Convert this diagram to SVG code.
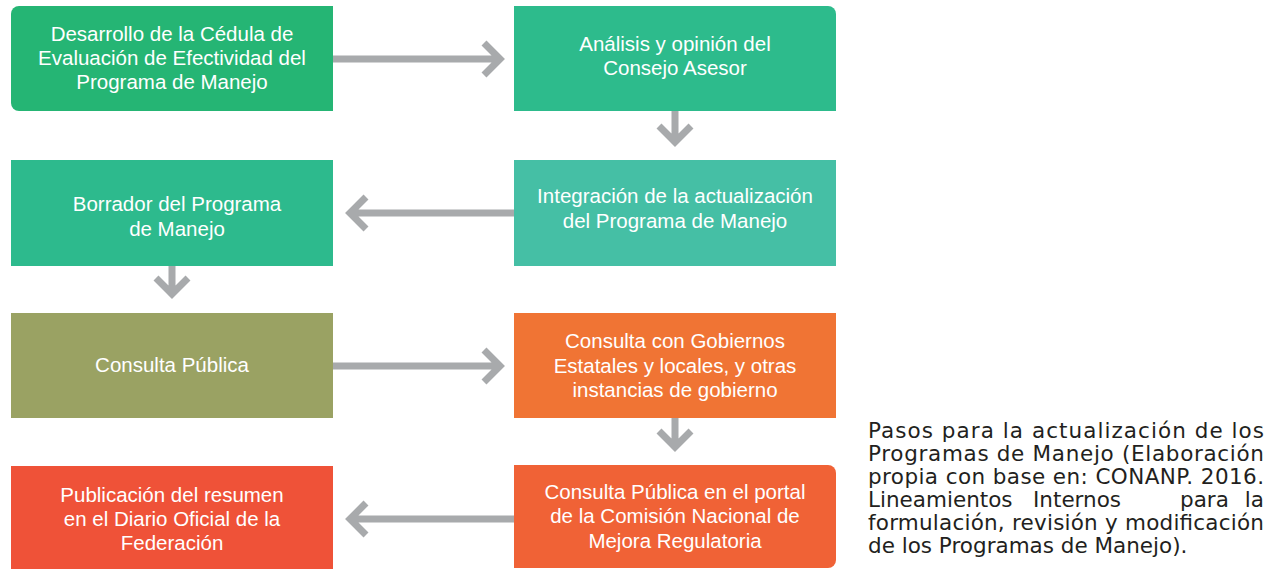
<svg xmlns="http://www.w3.org/2000/svg" width="1276" height="569" viewBox="0 0 1276 569">
<style>
.t{font-family:"Liberation Sans",Arial,sans-serif;font-size:20.5px;fill:#ffffff;text-anchor:middle}
.c{font-family:"DejaVu Sans","Noto Sans",sans-serif;font-size:21.5px;fill:#231f20}
.a{fill:none;stroke:#a8aaac;stroke-width:7}
</style>
<rect width="1276" height="569" fill="#ffffff"/>
<g id="n1">
<path d="M19 6H333V111H19A8 8 0 0 1 11 103V14A8 8 0 0 1 19 6Z" fill="#25b574"/>
<text class="t" x="172" y="41">Desarrollo de la Cédula de</text>
<text class="t" x="172" y="65">Evaluación de Efectividad del</text>
<text class="t" x="172" y="89">Programa de Manejo</text>
</g>
<g id="n2">
<path d="M514 6H828A8 8 0 0 1 836 14V111H514Z" fill="#2dbb8c"/>
<text class="t" x="675" y="51">Análisis y opinión del</text>
<text class="t" x="675" y="75">Consejo Asesor</text>
</g>
<g id="n3">
<rect x="514" y="160" width="322" height="106" fill="#45bfa5"/>
<text class="t" x="675" y="203">Integración de la actualización</text>
<text class="t" x="675" y="228">del Programa de Manejo</text>
</g>
<g id="n4">
<rect x="11" y="160" width="322" height="106" fill="#2dba8d"/>
<text class="t" x="177" y="211">Borrador del Programa</text>
<text class="t" x="177" y="236">de Manejo</text>
</g>
<g id="n5">
<rect x="11" y="313" width="322" height="105" fill="#9aa263"/>
<text class="t" x="172" y="372">Consulta Pública</text>
</g>
<g id="n6">
<rect x="514" y="313" width="322" height="105" fill="#f07434"/>
<text class="t" x="675" y="348">Consulta con Gobiernos</text>
<text class="t" x="675" y="373">Estatales y locales, y otras</text>
<text class="t" x="675" y="397">instancias de gobierno</text>
</g>
<g id="n7">
<path d="M514 465H828A8 8 0 0 1 836 473V560A8 8 0 0 1 828 568H514Z" fill="#f06236"/>
<text class="t" x="675" y="499">Consulta Pública en el portal</text>
<text class="t" x="675" y="523">de la Comisión Nacional de</text>
<text class="t" x="675" y="548">Mejora Regulatoria</text>
</g>
<g id="n8">
<path d="M11 466H333V569H11Z" fill="#ef5238"/>
<text class="t" x="172" y="502">Publicación del resumen</text>
<text class="t" x="172" y="526">en el Diario Oficial de la</text>
<text class="t" x="172" y="550">Federación</text>
</g>
<g id="connectors">
<path class="a" d="M333 59H497M484 43L500 59L484 75"/>
<path class="a" d="M675 111V141M659 126L675 142L691 126"/>
<path class="a" d="M514 213H353M366 197L350 213L366 229"/>
<path class="a" d="M172 266V293M156 278L172 294L188 278"/>
<path class="a" d="M333 366H497M484 350L500 366L484 382"/>
<path class="a" d="M675 418V446M659 431L675 447L691 431"/>
<path class="a" d="M514 519H353M366 503L350 519L366 535"/>
</g>
<g id="caption">
<text class="c" x="868" y="438" textLength="396" lengthAdjust="spacing">Pasos para la actualización de los</text>
<text class="c" x="868" y="461" textLength="396" lengthAdjust="spacing">Programas de Manejo (Elaboración</text>
<text class="c" x="868" y="484" textLength="396" lengthAdjust="spacing">propia con base en: CONANP. 2016.</text>
<text class="c" x="868" y="507">Lineamientos</text>
<text class="c" x="1033" y="507">Internos</text>
<text class="c" x="1180" y="507">para</text>
<text class="c" x="1264" y="507" text-anchor="end">la</text>
<text class="c" x="868" y="530" textLength="396" lengthAdjust="spacing">formulación, revisión y modificación</text>
<text class="c" x="868" y="553">de los Programas de Manejo).</text>
</g>
</svg>
